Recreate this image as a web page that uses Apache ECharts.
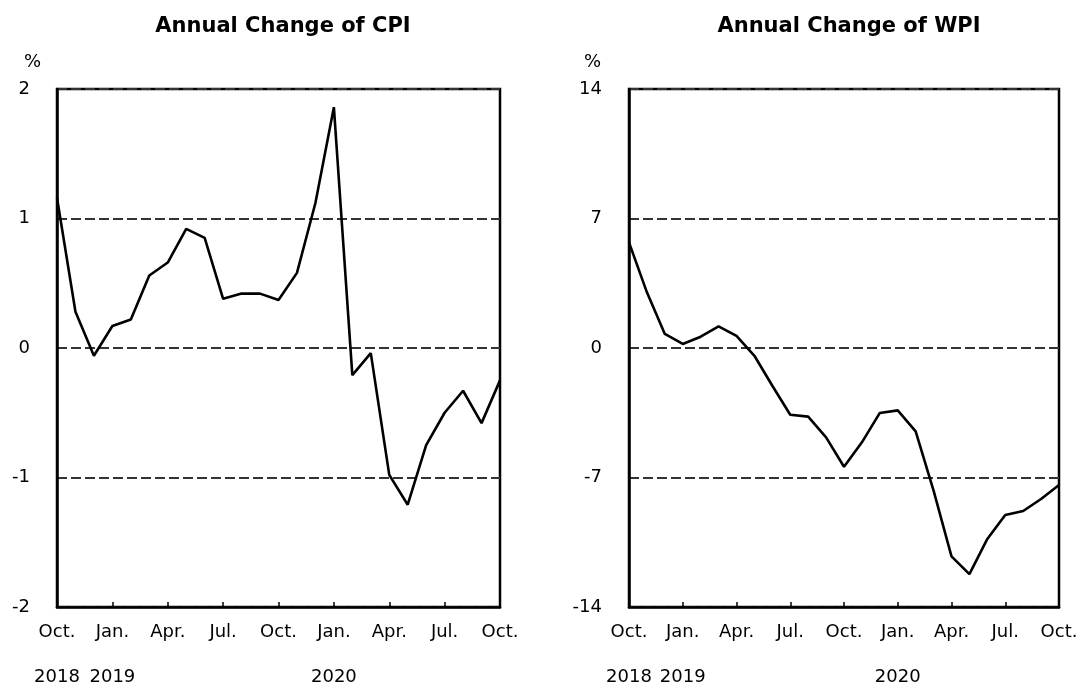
<!DOCTYPE html>
<html>
<head>
<meta charset="utf-8">
<script src="https://cdn.jsdelivr.net/npm/echarts@6/dist/echarts.min.js"></script>
<style>
    html, body { margin: 0; padding: 0; background: #fff; }
    #main { width: 1082px; height: 686px; }
</style>
</head>
<body>
<div id="main"></div>
<script>
// 2018年10月 ~ 2020年10月
const categories = [
    '2018-10', '2018-11', '2018-12', '2019-01', '2019-02', '2019-03', '2019-04',
    '2019-05', '2019-06', '2019-07', '2019-08', '2019-09', '2019-10', '2019-11',
    '2019-12', '2020-01', '2020-02', '2020-03', '2020-04', '2020-05', '2020-06',
    '2020-07', '2020-08', '2020-09', '2020-10'
];
const monthLabels = [
    'Oct.', 'Nov.', 'Dec.', 'Jan.', 'Feb.', 'Mar.', 'Apr.', 'May', 'Jun.', 'Jul.',
    'Aug.', 'Sep.', 'Oct.', 'Nov.', 'Dec.', 'Jan.', 'Feb.', 'Mar.', 'Apr.', 'May',
    'Jun.', 'Jul.', 'Aug.', 'Sep.', 'Oct.'
];
const yearLabels = [
    '2018', '', '', '2019', '', '', '', '', '', '', '', '', '', '', '',
    '2020', '', '', '', '', '', '', '', '', ''
];
const cpi = [
    1.16, 0.28, -0.06, 0.17, 0.22, 0.56, 0.66, 0.92, 0.85, 0.38, 0.42, 0.42, 0.37,
    0.58, 1.12, 1.86, -0.21, -0.04, -0.98, -1.21, -0.75, -0.50, -0.33, -0.58, -0.25
];
const wpi = [
    5.71, 3.01, 0.76, 0.22, 0.61, 1.17, 0.65, -0.42, -2.04, -3.61, -3.71, -4.83, -6.42,
    -5.10, -3.51, -3.37, -4.51, -7.71, -11.26, -12.22, -10.32, -9.03, -8.81, -8.16, -7.41
];
const cpiTicks = { min: -2, max: 2, interval: 1 };
const wpiTicks = { min: -14, max: 14, interval: 7 };

const FONT = 'DejaVu Sans';

const makeXAxis = gridIndex => ({
    type: 'category',
    gridIndex: gridIndex,
    data: categories,
    boundaryGap: false,
    axisLine: { onZero: false, lineStyle: { color: '#000', width: 2.5 } },
    axisTick: {
        show: true,
        inside: true,
        length: 5,
        interval: 2,
        lineStyle: { color: '#000', width: 1.5 }
    },
    axisLabel: {
        interval: 2,
        margin: 3,
        color: '#000',
        fontFamily: FONT,
        fontSize: 18,
        lineHeight: 45,
        formatter: (value, index) => monthLabels[index] + (yearLabels[index] ? '\n' + yearLabels[index] : '')
    },
    splitLine: { show: false }
});

const makeYAxis = (gridIndex, ticks, namePad) => ({
    type: 'value',
    gridIndex: gridIndex,
    min: ticks.min,
    max: ticks.max,
    interval: ticks.interval,
    name: '%',
    nameLocation: 'end',
    nameGap: 27,
    nameTextStyle: {
        color: '#000',
        fontFamily: FONT,
        fontSize: 18,
        align: 'right',
        verticalAlign: 'middle',
        padding: [0, namePad, 0, 0]
    },
    axisLine: { show: true, onZero: false, lineStyle: { color: '#000', width: 2.5 } },
    axisTick: { show: false },
    axisLabel: {
        margin: 27,
        color: '#000',
        fontFamily: FONT,
        fontSize: 18
    },
    splitLine: {
        show: true,
        lineStyle: { color: '#333', width: 2, type: [10, 4] }
    }
});

const chart = echarts.init(document.getElementById('main'));
const option = {
    backgroundColor: '#fff',
    animation: false,
    title: [
        {
            text: 'Annual Change of CPI',
            left: 278,
            top: 11,
            textAlign: 'center',
            textStyle: { color: '#000', fontFamily: FONT, fontWeight: 'bold', fontSize: 21 }
        },
        {
            text: 'Annual Change of WPI',
            left: 844,
            top: 11,
            textAlign: 'center',
            textStyle: { color: '#000', fontFamily: FONT, fontWeight: 'bold', fontSize: 21 }
        }
    ],
    grid: [
        {
            left: 57, right: 582, top: 89, bottom: 79,
            containLabel: false, outerBoundsMode: 'none',
            show: true, borderColor: '#000', borderWidth: 2.5, backgroundColor: 'transparent'
        },
        {
            left: 629, right: 23, top: 89, bottom: 79,
            containLabel: false, outerBoundsMode: 'none',
            show: true, borderColor: '#000', borderWidth: 2.5, backgroundColor: 'transparent'
        }
    ],
    xAxis: [makeXAxis(0), makeXAxis(1)],
    yAxis: [makeYAxis(0, cpiTicks, 16), makeYAxis(1, wpiTicks, 28)],
    series: [
        {
            name: 'CPI',
            type: 'line',
            xAxisIndex: 0,
            yAxisIndex: 0,
            data: cpi,
            showSymbol: false,
            lineStyle: { color: '#000', width: 2.6 },
            itemStyle: { color: '#000' }
        },
        {
            name: 'WPI',
            type: 'line',
            xAxisIndex: 1,
            yAxisIndex: 1,
            data: wpi,
            showSymbol: false,
            lineStyle: { color: '#000', width: 2.6 },
            itemStyle: { color: '#000' }
        }
    ]
};
chart.setOption(option);
</script>
</body>
</html>
